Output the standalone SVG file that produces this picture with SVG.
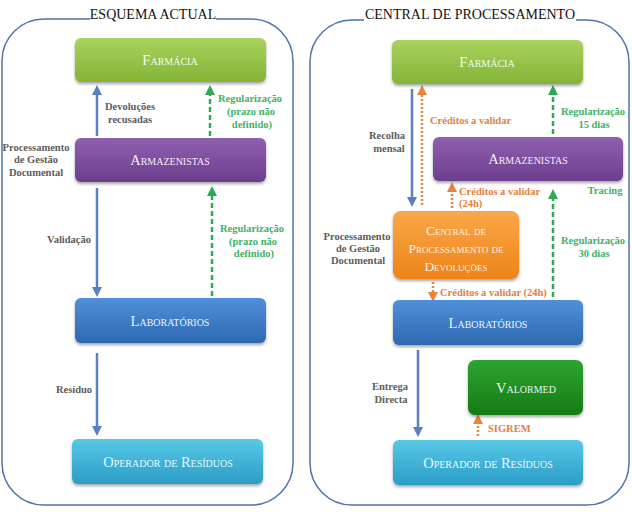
<svg xmlns="http://www.w3.org/2000/svg" width="632" height="512" viewBox="0 0 632 512">
<defs>
<linearGradient id="gF" x1="0" y1="0" x2="0" y2="1"><stop offset="0" stop-color="#a8d35e"/><stop offset="1" stop-color="#84b436"/></linearGradient>
<linearGradient id="gA" x1="0" y1="0" x2="0" y2="1"><stop offset="0" stop-color="#9060b0"/><stop offset="1" stop-color="#6c3d8e"/></linearGradient>
<linearGradient id="gL" x1="0" y1="0" x2="0" y2="1"><stop offset="0" stop-color="#4f90da"/><stop offset="1" stop-color="#2e69b2"/></linearGradient>
<linearGradient id="gO" x1="0" y1="0" x2="0" y2="1"><stop offset="0" stop-color="#58c8e6"/><stop offset="1" stop-color="#2a9dc6"/></linearGradient>
<linearGradient id="gC" x1="0" y1="0" x2="0" y2="1"><stop offset="0" stop-color="#f9a84a"/><stop offset="1" stop-color="#ee8318"/></linearGradient>
<linearGradient id="gV" x1="0" y1="0" x2="0" y2="1"><stop offset="0" stop-color="#2ea52e"/><stop offset="1" stop-color="#167a16"/></linearGradient>
<filter id="sh" x="-10%" y="-20%" width="120%" height="150%"><feDropShadow dx="0" dy="2" stdDeviation="1.5" flood-color="#000" flood-opacity="0.35"/></filter>
<marker id="mB" viewBox="0 0 10 10" refX="5" refY="5" markerWidth="4" markerHeight="4" orient="auto"><path d="M0 0 L10 5 L0 10 z" fill="#5b7fbf"/></marker>
<marker id="mG" viewBox="0 0 10 10" refX="5" refY="5" markerWidth="4" markerHeight="4" orient="auto"><path d="M0 0 L10 5 L0 10 z" fill="#2eaa55"/></marker>
<marker id="mO" viewBox="0 0 10 10" refX="5" refY="5" markerWidth="4" markerHeight="4" orient="auto"><path d="M0 0 L10 5 L0 10 z" fill="#e8853f"/></marker>
</defs>
<style>
.panel{fill:none;stroke:#4e73ad;stroke-width:1.5}
.title{font-family:"Liberation Serif",serif;font-size:14px;fill:#111;text-anchor:middle}
.node rect{filter:url(#sh)}
.nt{font-family:"Liberation Serif",serif;font-size:14.5px;font-variant:small-caps;fill:#fff;text-anchor:middle;fill-opacity:0.92}
.ntc{font-size:13.5px}
.lb{font-family:"Liberation Serif",serif;font-size:10.5px;font-weight:bold;fill:#5c5c5c;text-anchor:middle}
.lg{font-family:"Liberation Serif",serif;font-size:10.5px;font-weight:bold;fill:#3fb265;text-anchor:middle}
.lo{font-family:"Liberation Serif",serif;font-size:10.5px;font-weight:bold;fill:#e47e3e}
.ab{stroke:#5b7fbf;stroke-width:2.5;fill:none;marker-end:url(#mB)}
.ag{stroke:#2eaa55;stroke-width:2.5;fill:none;stroke-dasharray:5 3;marker-end:url(#mG)}
.ao{stroke:#e8853f;stroke-width:2.5;fill:none;stroke-dasharray:2 2;marker-end:url(#mO)}
</style>
<rect width="632" height="512" fill="#fff"/>
<g id="panels">
<path class="panel" d="M90 19 H44 A42 42 0 0 0 2 61 V463 A42 42 0 0 0 44 505 H251 A42 42 0 0 0 293 463 V61 A42 42 0 0 0 251 19 H216"/>
<text class="title" x="153" y="19">ESQUEMA ACTUAL</text>
<path class="panel" d="M364 20 H352 A42 42 0 0 0 310 62 V463 A42 42 0 0 0 352 505 H587 A42 42 0 0 0 629 463 V62 A42 42 0 0 0 587 20 H576"/>
<text class="title" x="470" y="19">CENTRAL DE PROCESSAMENTO</text>
</g>
<g id="connectors">
<line class="ab" x1="97" y1="136" x2="97" y2="90"/>
<line class="ag" x1="210" y1="136" x2="210" y2="90"/>
<line class="ab" x1="97" y1="188" x2="97" y2="292"/>
<line class="ag" x1="212" y1="296" x2="212" y2="191"/>
<line class="ab" x1="97" y1="353" x2="97" y2="431"/>
<line class="ab" x1="412" y1="89" x2="412" y2="202"/>
<line class="ao" x1="422" y1="205" x2="422" y2="90"/>
<line class="ag" x1="553" y1="134" x2="553" y2="90"/>
<line class="ao" x1="452" y1="208" x2="452" y2="187"/>
<line class="ag" x1="553" y1="297" x2="553" y2="194"/>
<line class="ao" x1="433" y1="282" x2="433" y2="297"/>
<line class="ab" x1="418" y1="350" x2="418" y2="432"/>
<line class="ao" x1="478" y1="436" x2="478" y2="419"/>
</g>
<g id="labels">
<text class="lb" x="130" y="110">Devoluções</text>
<text class="lb" x="130" y="123">recusadas</text>
<text class="lg" x="250" y="102">Regularização</text>
<text class="lg" x="251" y="115">(prazo não</text>
<text class="lg" x="252" y="128">definido)</text>
<text class="lb" x="36" y="151">Processamento</text>
<text class="lb" x="36" y="163">de Gestão</text>
<text class="lb" x="36" y="176">Documental</text>
<text class="lb" x="69" y="243">Validação</text>
<text class="lg" x="252" y="232">Regularização</text>
<text class="lg" x="253" y="245">(prazo não</text>
<text class="lg" x="254" y="257">definido)</text>
<text class="lb" x="74" y="393">Resíduo</text>
<text class="lb" x="387" y="139">Recolha</text>
<text class="lb" x="389" y="152">mensal</text>
<text class="lo" x="430" y="124">Créditos a validar</text>
<text class="lg" x="593" y="115">Regularização</text>
<text class="lg" x="594" y="128">15 dias</text>
<text class="lg" x="605" y="194">Tracing</text>
<text class="lo" x="459" y="195">Créditos a validar</text>
<text class="lo" x="459" y="207">(24h)</text>
<text class="lb" x="357" y="240">Processamento</text>
<text class="lb" x="358" y="252">de Gestão</text>
<text class="lb" x="358" y="264">Documental</text>
<text class="lg" x="593" y="244">Regularização</text>
<text class="lg" x="594" y="257">30 dias</text>
<text class="lo" x="440" y="296">Créditos a validar (24h)</text>
<text class="lb" x="390" y="390">Entrega</text>
<text class="lb" x="391" y="403">Directa</text>
<text class="lo" x="488" y="432">SIGREM</text>
</g>
<g id="farmacia-l" class="node"><rect x="75" y="38" width="191" height="44" rx="6" fill="url(#gF)"/><text class="nt" x="170" y="65">Farmácia</text></g>
<g id="armazenistas-l" class="node"><rect x="75" y="138" width="191" height="44" rx="6" fill="url(#gA)"/><text class="nt" x="170" y="165">Armazenistas</text></g>
<g id="laboratorios-l" class="node"><rect x="75" y="298" width="191" height="45" rx="6" fill="url(#gL)"/><text class="nt" x="170" y="326">Laboratórios</text></g>
<g id="operador-l" class="node"><rect x="72" y="439" width="191" height="45" rx="6" fill="url(#gO)"/><text class="nt" x="168" y="467">Operador de Resíduos</text></g>
<g id="farmacia-r" class="node"><rect x="392" y="40" width="191" height="44" rx="6" fill="url(#gF)"/><text class="nt" x="487" y="67">Farmácia</text></g>
<g id="armazenistas-r" class="node"><rect x="433" y="137" width="190" height="44" rx="6" fill="url(#gA)"/><text class="nt" x="528" y="164">Armazenistas</text></g>
<g id="central" class="node"><rect x="393" y="211" width="126" height="68" rx="8" fill="url(#gC)"/><text class="nt ntc" x="456" y="235">Central de</text><text class="nt ntc" x="456" y="253">Processamento de</text><text class="nt ntc" x="456" y="271">Devoluções</text></g>
<g id="laboratorios-r" class="node"><rect x="393" y="300" width="190" height="45" rx="6" fill="url(#gL)"/><text class="nt" x="488" y="328">Laboratórios</text></g>
<g id="valormed" class="node"><rect x="468" y="360" width="115" height="55" rx="7" fill="url(#gV)"/><text class="nt" x="526" y="393">Valormed</text></g>
<g id="operador-r" class="node"><rect x="393" y="440" width="190" height="45" rx="6" fill="url(#gO)"/><text class="nt" x="488" y="468">Operador de Resíduos</text></g>
</svg>
